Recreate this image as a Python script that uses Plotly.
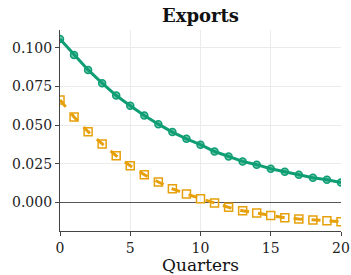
import plotly.graph_objects as go

quarters = list(range(21))
green_vals = [0.1057, 0.0954, 0.0857, 0.0771, 0.0691, 0.0625, 0.0562, 0.0506, 0.0455, 0.0411,
              0.0373, 0.0329, 0.0297, 0.0265, 0.0244, 0.0218, 0.0198, 0.0179, 0.0160, 0.0147, 0.0129]
orange_vals = [0.0663, 0.0552, 0.0457, 0.0377, 0.0302, 0.0237, 0.0179, 0.0132, 0.0088, 0.0054,
               0.0024, -0.0004, -0.0032, -0.0054, -0.0069, -0.0084, -0.0099, -0.0107, -0.0114, -0.0118, -0.0125]
y_ticks = [0.0, 0.025, 0.05, 0.075, 0.1]
y_ticklabels = ["0.000", "0.025", "0.050", "0.075", "0.100"]
x_ticks = [0, 5, 10, 15, 20]

GREEN = "#0f9e74"
ORANGE = "#e6a00a"
FONT = "DejaVu Serif"

fig = go.Figure()
fig.add_trace(go.Scatter(
    x=quarters, y=orange_vals, mode="lines+markers",
    line=dict(color=ORANGE, width=3, dash="dash"),
    marker=dict(symbol="square-open", size=8, color=ORANGE, line=dict(width=1.5, color=ORANGE)),
    showlegend=False))
fig.add_trace(go.Scatter(
    x=quarters, y=green_vals, mode="lines+markers",
    line=dict(color=GREEN, width=3),
    marker=dict(symbol="circle", size=7, color="rgba(15,158,116,0.6)", line=dict(width=1.5, color=GREEN)),
    showlegend=False))

fig.update_layout(
    width=351, height=275,
    margin=dict(l=60, r=10, t=30, b=44, autoexpand=False),
    paper_bgcolor="white", plot_bgcolor="white",
    font=dict(family=FONT, size=14, color="#222"),
    title=dict(text="<b>Exports</b>", x=0.5, xref="paper", xanchor="center",
               y=1 - 16 / 275, yref="container", yanchor="middle", font=dict(family=FONT, size=18, color="#111")),
    xaxis=dict(range=[0, 20], tickvals=x_ticks, showgrid=True, gridcolor="#ebebeb",
               showline=True, linecolor="#444", linewidth=1.2, ticks="outside", ticklen=4,
               tickcolor="#444", zeroline=False, automargin=False,
               title=dict(text="Quarters", font=dict(family=FONT, size=17, color="#111"), standoff=2),
               tickfont=dict(family=FONT, size=14, color="#222")),
    yaxis=dict(range=[-0.0185, 0.1115], tickvals=y_ticks, ticktext=y_ticklabels,
               showgrid=True, gridcolor="#ebebeb", showline=True, linecolor="#444", linewidth=1.2,
               ticks="outside", ticklen=4, tickcolor="#444", automargin=False,
               zeroline=True, zerolinecolor="#555", zerolinewidth=1.3,
               tickfont=dict(family=FONT, size=14, color="#222")),
)

fig.write_html("out.html", config={"displayModeBar": False},
               post_script="document.body.style.margin='0';document.body.style.overflow='hidden';")
